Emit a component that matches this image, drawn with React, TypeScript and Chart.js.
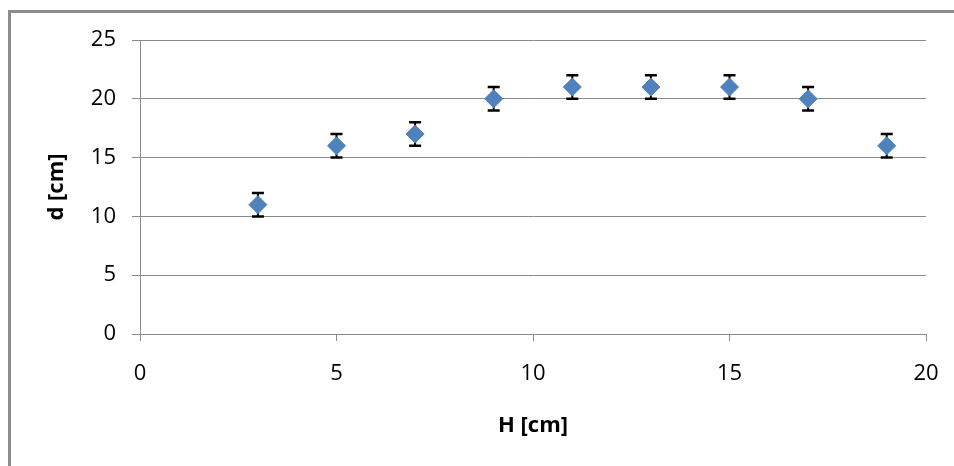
import React, { useEffect, useRef } from "react";
import { Chart, registerables } from "chart.js";

Chart.register(...registerables);

const hValues = [3, 5, 7, 9, 11, 13, 15, 17, 19];
const dValues = [11, 16, 17, 20, 21, 21, 21, 20, 16];
const dErrors = [1, 1, 1, 1, 1, 1, 1, 1, 1];
const xTitle = "H [cm]";
const yTitle = "d [cm]";

const FONT = "'Open Sans', 'Noto Sans', sans-serif";
const GRID = "#8a8a8a";

const errorBarPlugin = {
  id: "errorBars",
  beforeDatasetsDraw(chart: any) {
    const { ctx, scales } = chart;
    const xs = scales.x;
    const ys = scales.y;
    ctx.save();
    ctx.strokeStyle = "#000";
    ctx.lineWidth = 2;
    hValues.forEach((h, i) => {
      const px = xs.getPixelForValue(h);
      const top = ys.getPixelForValue(dValues[i] + dErrors[i]);
      const bot = ys.getPixelForValue(dValues[i] - dErrors[i]);
      ctx.beginPath();
      ctx.moveTo(px, top);
      ctx.lineTo(px, bot);
      ctx.stroke();
    });
    ctx.lineWidth = 2.5;
    hValues.forEach((h, i) => {
      const px = xs.getPixelForValue(h);
      const top = ys.getPixelForValue(dValues[i] + dErrors[i]);
      const bot = ys.getPixelForValue(dValues[i] - dErrors[i]);
      ctx.beginPath();
      ctx.moveTo(px - 6, top);
      ctx.lineTo(px + 6, top);
      ctx.moveTo(px - 6, bot);
      ctx.lineTo(px + 6, bot);
      ctx.stroke();
    });
    ctx.restore();
  },
};

const framePlugin = {
  id: "frame",
  beforeDraw(chart: any) {
    const { ctx, width, height } = chart;
    ctx.save();
    ctx.fillStyle = "#ffffff";
    ctx.fillRect(0, 0, width, height);
    ctx.fillStyle = "#8c8c8c";
    ctx.fillRect(8, 10, width - 8, 3);
    ctx.fillRect(8, 10, 3, height - 10);
    ctx.restore();
  },
};

export default function App() {
  const ref = useRef<HTMLCanvasElement>(null);

  useEffect(() => {
    if (!ref.current) return;
    const chart = new Chart(ref.current, {
      type: "scatter",
      data: {
        datasets: [
          {
            data: hValues.map((h, i) => ({ x: h, y: dValues[i] })),
            pointStyle: "rectRot",
            pointRadius: 9,
            pointBackgroundColor: "#4F81BD",
            pointBorderColor: "#4F81BD",
            pointBorderWidth: 1,
          },
        ],
      },
      options: {
        animation: false,
        responsive: false,
        layout: { padding: { left: 0, top: 40, right: 28, bottom: 0 } },
        plugins: {
          legend: { display: false },
          tooltip: { enabled: false },
        },
        scales: {
          x: {
            type: "linear",
            min: 0,
            max: 20,
            afterFit: (s: any) => {
              s.height = 132;
              s.paddingLeft = 0;
              s.paddingRight = 0;
            },
            ticks: {
              stepSize: 5,
              padding: 20,
              color: "#000",
              font: { family: FONT, size: 22 },
            },
            grid: {
              drawOnChartArea: false,
              drawTicks: true,
              tickLength: 7,
              color: GRID,
            },
            border: { display: true, color: GRID, width: 1 },
            title: {
              display: true,
              text: xTitle,
              color: "#000",
              font: { family: FONT, size: 22, weight: "bold" },
              padding: { top: 0, bottom: 27 },
            },
          },
          y: {
            type: "linear",
            min: 0,
            max: 25,
            afterFit: (s: any) => {
              s.width = 140;
              s.paddingTop = 0;
              s.paddingBottom = 0;
            },
            ticks: {
              stepSize: 5,
              padding: 16,
              color: "#000",
              font: { family: FONT, size: 22 },
            },
            grid: {
              drawTicks: true,
              tickLength: 8,
              color: GRID,
            },
            border: { display: true, color: GRID, width: 1 },
            title: {
              display: true,
              text: yTitle,
              color: "#000",
              font: { family: FONT, size: 22, weight: "bold" },
              padding: { top: 44, bottom: 0 },
            },
          },
        },
      },
      plugins: [framePlugin, errorBarPlugin],
    } as any);
    return () => chart.destroy();
  }, []);

  return (
    <div style={{ position: "fixed", left: 0, top: 0, width: 954, height: 466 }}>
      <canvas ref={ref} width={954} height={466} style={{ display: "block" }} />
    </div>
  );
}
